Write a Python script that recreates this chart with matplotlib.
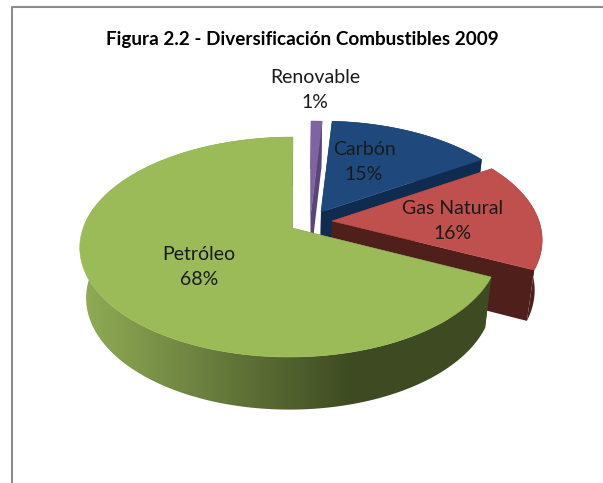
import matplotlib
matplotlib.use('Agg')
import matplotlib.pyplot as plt
import numpy as np
from matplotlib.colors import LinearSegmentedColormap
from matplotlib.patches import Polygon

# Data, clockwise from 12 o'clock
labels = ['Renovable', 'Carbón', 'Gas Natural', 'Petróleo']
values = [1, 15, 16, 68]
percent = ['1%', '15%', '16%', '68%']

top_colors = ['#8064A2', '#1F497D', '#C0504D', '#9BBB59']
side_colors = ['#5A4578', '#0F2B50', '#4F1F1C', '#3E4B22']
offsets = [(19, -16), (29, -16), (40, -7), (0, 0)]  # explosion in pixels
rim_shift = [(0, 0), (0, 0), (-1, -1), (-4, 1)]  # start and end of each rim
label_pos = [(315, 90), (364, 162), (453, 221), (199, 267)]

title = 'Figura 2.2 - Diversificación Combustibles 2009'

# Projection of the pie plane
cx, cy = 292, 228
A, B, k = 208, 106.7, 0.173
depth = 50


def project(t, r=1.0, off=(0, 0), bottom=False):
    u = r * np.sin(t)
    v = r * np.cos(t)
    w = 1 + k * v
    x = cx + off[0] + A * u / w
    y = cy + off[1] - B * v / w
    if bottom:
        x = cx + (x - cx) * 0.97
        y = y + depth + (y - cy) * 0.02
    return x, y


plt.rcParams['font.family'] = ['Lato', 'DejaVu Sans']
fig = plt.figure(figsize=(6.03, 4.83), dpi=100)
ax = fig.add_axes([0, 0, 1, 1])

# Frame
ax.plot([11.5, 11.5, 603], [483, 7, 7], color='#8C8C8C', lw=1.5)

edges = np.radians(np.cumsum([0] + values) * 3.6)
wall_cmap = LinearSegmentedColormap.from_list(
    'wall', [(0, '#8FAB55'), (0.64, '#3E4B22'), (1, '#3E4B22')])

for i in range(len(values)):
    t = np.linspace(edges[i], edges[i + 1], 200)
    off = offsets[i]
    shift = np.linspace(rim_shift[i][0], rim_shift[i][1], 200)
    x_top, y_top = project(t, off=off)
    x_top = x_top + shift
    x_bot, y_bot = project(t, off=off, bottom=True)
    x_bot = x_bot + shift
    ax_, ay_ = project(0.0, r=0.0, off=off)
    bx_, by_ = project(0.0, r=0.0, off=off, bottom=True)
    z = i * 3

    # cut faces
    for j in (0, -1):
        ax.fill([ax_, x_top[j], x_bot[j], bx_], [ay_, y_top[j], y_bot[j], by_],
                color=side_colors[i], lw=0, zorder=z + 1)

    # rim wall, the green one has a gradient
    wall_x = np.r_[x_top, x_bot[::-1]]
    wall_y = np.r_[y_top, y_bot[::-1]]
    if i == 3:
        patch = Polygon(np.c_[wall_x, wall_y], closed=True, facecolor='none',
                        edgecolor='none', transform=ax.transData)
        ax.add_patch(patch)
        grad = np.linspace(0, 1, 256).reshape(1, -1)
        im = ax.imshow(grad, cmap=wall_cmap, extent=[85, 500, 483, 0],
                       aspect='auto', zorder=z + 2)
        im.set_clip_path(patch)
    else:
        ax.fill(wall_x, wall_y, color=side_colors[i], lw=0, zorder=z + 2)

    # top face
    ax.fill(np.r_[ax_, x_top], np.r_[ay_, y_top], facecolor=top_colors[i],
            edgecolor=top_colors[i], lw=0.4, zorder=z + 3)

# Labels
for i in range(len(values)):
    ax.text(label_pos[i][0], label_pos[i][1], labels[i] + '\n' + percent[i],
            ha='center', va='center', fontsize=14, linespacing=1.62,
            color='#1A1A1A', zorder=30)

ax.text(302, 39, title, ha='center', va='center', fontsize=13.6, fontweight='bold',
        color='black', zorder=30)

ax.set_xlim(0, 603)
ax.set_ylim(483, 0)
ax.axis('off')

fig.savefig('out.png', dpi=100)
